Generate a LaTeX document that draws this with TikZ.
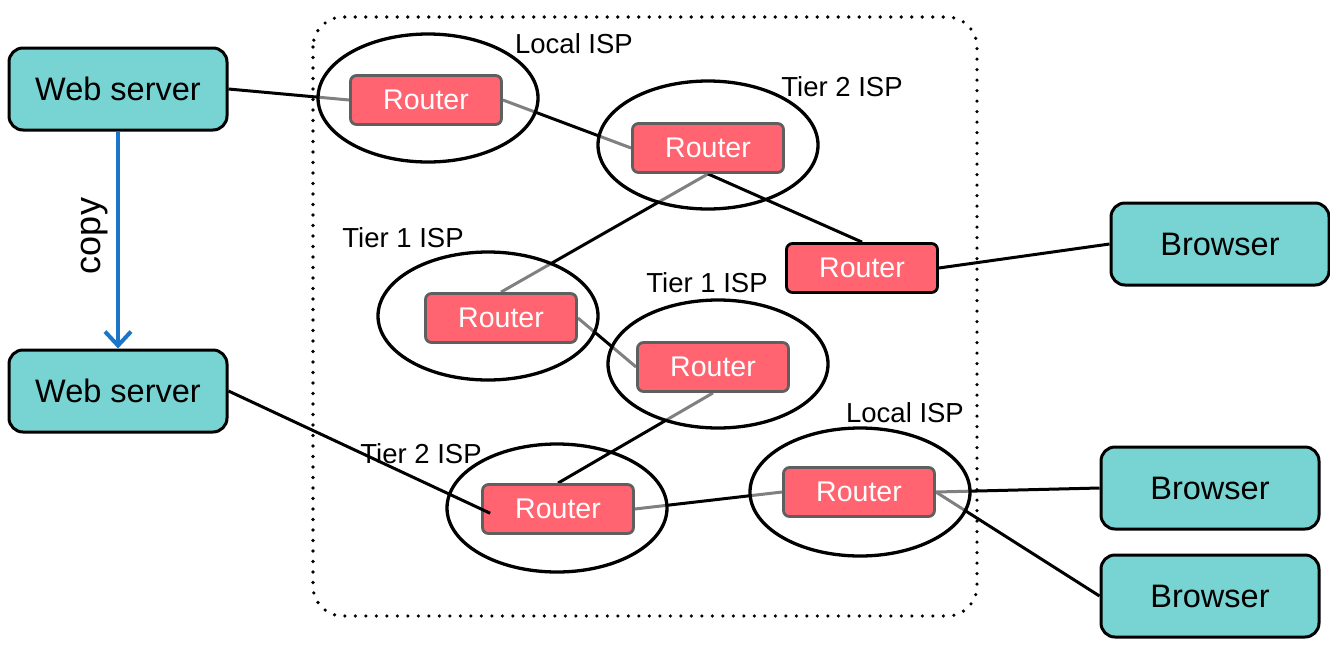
\documentclass[tikz,border=0pt]{standalone}
\usepackage{fontspec}
\setmainfont{Liberation Sans}
\usetikzlibrary{arrows.meta,shapes.geometric}
\definecolor{teal1}{HTML}{77D4D2}
\definecolor{routerred}{HTML}{FF6470}
\definecolor{routeredge}{HTML}{5F5F5F}
\definecolor{copyblue}{HTML}{1B75C8}
\tikzset{
  hostbox/.style={draw=black, line width=3pt, fill=teal1, rounded corners=14pt,
    minimum width=218pt, minimum height=82pt, inner sep=0pt,
    font=\fontsize{32.5}{36}\selectfont},
  routerbox/.style={draw=routeredge, line width=2.8pt, fill=routerred, rounded corners=6pt,
    minimum width=151pt, minimum height=49pt, inner sep=0pt, text=white,
    font=\fontsize{28.5}{32}\selectfont},
  ghost/.style={routerbox, draw=none, fill=none, text opacity=0},
  ispcloud/.style={draw=black, line width=3.3pt, fill=white, fill opacity=0.5, ellipse,
    minimum width=220pt, minimum height=128pt, inner sep=0pt},
  isplabel/.style={anchor=base, inner sep=0pt, font=\fontsize{27.5}{32}\selectfont},
  link/.style={draw=black, line width=3pt},
}
\begin{document}
\begin{tikzpicture}[x=1pt, y=-1pt]
\useasboundingbox (0,0) rectangle (1330,646);
% hosts
\node[hostbox] (ws1) at (118,89) {Web server};
\node[hostbox] (ws2) at (118,391) {Web server};
\node[hostbox] (b1) at (1220,244) {Browser};
\node[hostbox] (b2) at (1210,488) {Browser};
\node[hostbox] (b3) at (1210,596) {Browser};
% dotted internet boundary
\draw[line width=3.6pt, line cap=round, dash pattern=on 0pt off 10.5pt, rounded corners=30pt]
  (313,17) rectangle (977,616);
% router positions
\path
  (426,100) coordinate (c1)
  (708,148) coordinate (c2)
  (862,268) coordinate (c3)
  (501,318) coordinate (c4)
  (713,367) coordinate (c5)
  (558,509) coordinate (c6)
  (859,492) coordinate (c7);
\node[ghost] (r1) at (c1) {Router};
\node[ghost] (r2) at (c2) {Router};
\node[ghost] (r3) at (c3) {Router};
\node[ghost] (r4) at (c4) {Router};
\node[ghost] (r5) at (c5) {Router};
\node[ghost] (r6) at (c6) {Router};
\node[ghost] (r7) at (c7) {Router};
% connectors under the clouds
\draw[link] (r6.east) -- (r7.west);
\node[ispcloud] (t2b) at (557,508) {};
\draw[link] (r5.south) -- (r6.north);
\draw[link] (ws1.east) -- (r1.west);
\draw[link] (r1.east) -- (r2.west);
\draw[link] (r2.south) -- (r4.north);
\draw[link] (r4.east) -- (r5.west);
\draw[link] (r7.east) -- (b2.west);
\draw[link] (r7.east) -- (b3.west);
% clouds
\node[ispcloud] (l1) at (428,98) {};
\node[ispcloud] (t2a) at (708,145) {};
\node[ispcloud] (t1a) at (488,316) {};
\node[ispcloud] (t1b) at (718,364) {};
\node[ispcloud] (l2) at (860,492) {};
% connectors over the clouds
\draw[link] (r2.south) -- (r3.north);
\draw[link] (r3.east) -- (b1.west);
% routers
\node[routerbox] (R1) at (c1) {Router};
\node[routerbox] (R2) at (c2) {Router};
\node[routerbox, draw=black] (R3) at (c3) {Router};
\node[routerbox] (R4) at (c4) {Router};
\node[routerbox] (R5) at (c5) {Router};
\node[routerbox] (R6) at (c6) {Router};
\node[routerbox] (R7) at (c7) {Router};
\draw[link, shorten >=-10pt] (ws2.east) -- (R6.west);
% labels
\node[isplabel] (lab1) at (574,53) {Local ISP};
\node[isplabel] (lab2) at (842,96) {Tier 2 ISP};
\node[isplabel] (lab3) at (403,247) {Tier 1 ISP};
\node[isplabel] (lab4) at (707,292) {Tier 1 ISP};
\node[isplabel] (lab5) at (421,463) {Tier 2 ISP};
\node[isplabel] (lab6) at (905,422) {Local ISP};
% copy arrow
\draw[draw=copyblue, line width=4pt, -{Straight Barb[length=14pt,width=26pt,line width=4pt]}]
  (ws1.south) -- (ws2.north);
\node[rotate=90, inner sep=0pt, font=\fontsize{36}{40}\selectfont] (copylab) at (95,236) {copy};
\end{tikzpicture}
\end{document}
